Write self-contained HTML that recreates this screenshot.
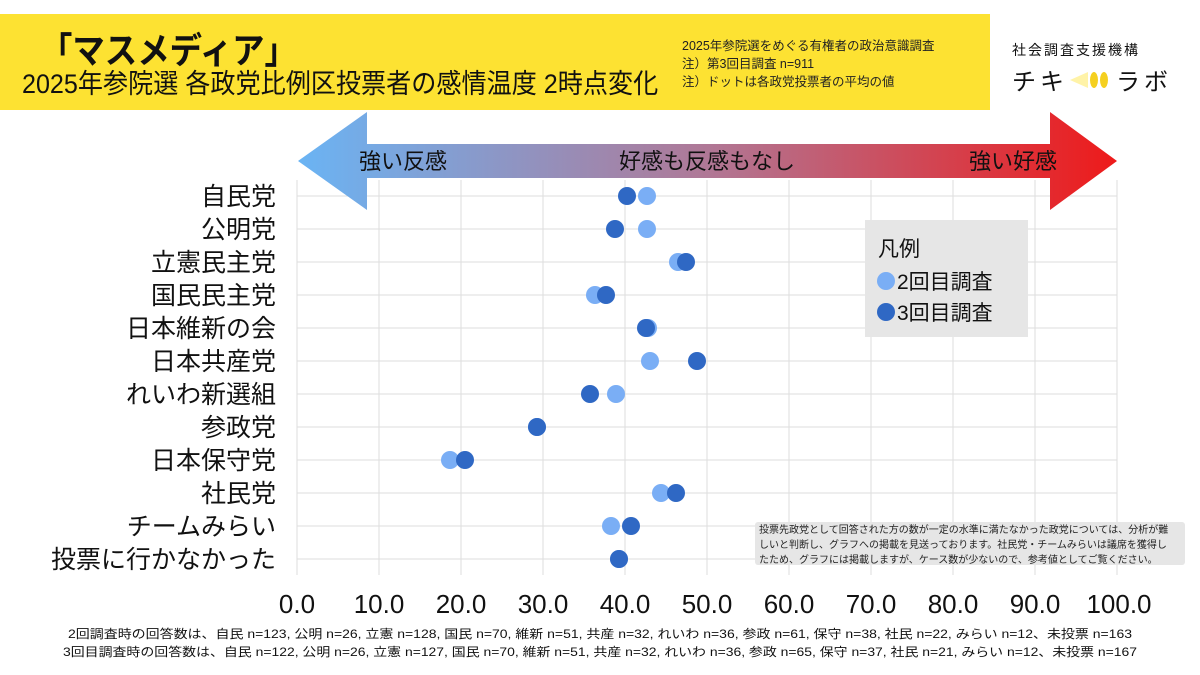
<!DOCTYPE html>
<html><head><meta charset="utf-8"><style>
body{margin:0;width:1200px;height:675px;background:#fff;overflow:hidden;font-family:"Liberation Sans","Noto Sans CJK JP",sans-serif;position:relative}
.a{position:absolute;white-space:nowrap}
</style></head><body>
<div class="a" style="left:0;top:14px;width:990px;height:96px;background:#fde232"></div>
<div class="a" style="left:40px;top:22px;font-size:36px;font-weight:bold;color:#111;transform:scaleX(0.9);transform-origin:left">「マスメディア」</div>
<div class="a" style="left:22px;top:62px;font-size:27px;color:#111;transform:scaleX(0.93);transform-origin:left">2025年参院選 各政党比例区投票者の感情温度 2時点変化</div>
<div class="a" style="left:682px;top:37px;font-size:12.5px;line-height:18px;color:#222">2025年参院選をめぐる有権者の政治意識調査<br>注）第3回目調査 n=911<br>注）ドットは各政党投票者の平均の値</div>
<div class="a" style="left:1012px;top:40px;font-size:14px;letter-spacing:2px;color:#111">社会調査支援機構</div>
<div class="a" style="left:1012px;top:62px;font-size:24px;letter-spacing:4px;color:#111">チキ</div>
<div class="a" style="left:1116px;top:62px;font-size:24px;letter-spacing:4px;color:#111">ラボ</div>
<svg class="a" style="left:1068px;top:68px" width="44" height="24"><polygon points="2,12 20,4 20,20" fill="#fff3a8"/><ellipse cx="26" cy="12" rx="4" ry="8" fill="#f5d020"/><ellipse cx="36" cy="12" rx="4" ry="8" fill="#f5d020"/></svg>
<svg class="a" style="left:0;top:0" width="1200" height="675">
<defs><linearGradient id="g" x1="298" x2="1117" gradientUnits="userSpaceOnUse"><stop offset="0" stop-color="#6ab4f4"/><stop offset="0.5" stop-color="#b07896"/><stop offset="1" stop-color="#ee1a1a"/></linearGradient></defs>
<g stroke="#ddd" stroke-width="1">
<line x1="297" y1="196" x2="1117" y2="196"/><line x1="297" y1="229" x2="1117" y2="229"/><line x1="297" y1="262" x2="1117" y2="262"/><line x1="297" y1="295" x2="1117" y2="295"/><line x1="297" y1="328" x2="1117" y2="328"/><line x1="297" y1="361" x2="1117" y2="361"/><line x1="297" y1="394" x2="1117" y2="394"/><line x1="297" y1="427" x2="1117" y2="427"/><line x1="297" y1="460" x2="1117" y2="460"/><line x1="297" y1="493" x2="1117" y2="493"/><line x1="297" y1="526" x2="1117" y2="526"/><line x1="297" y1="559" x2="1117" y2="559"/>
<line x1="297" y1="180" x2="297" y2="575"/><line x1="379" y1="180" x2="379" y2="575"/><line x1="461" y1="180" x2="461" y2="575"/><line x1="543" y1="180" x2="543" y2="575"/><line x1="625" y1="180" x2="625" y2="575"/><line x1="707" y1="180" x2="707" y2="575"/><line x1="789" y1="180" x2="789" y2="575"/><line x1="871" y1="180" x2="871" y2="575"/><line x1="953" y1="180" x2="953" y2="575"/><line x1="1035" y1="180" x2="1035" y2="575"/><line x1="1117" y1="180" x2="1117" y2="575"/>
</g>
<polygon points="298,161 367,112 367,144 1050,144 1050,112 1117,161 1050,210 1050,178 367,178 367,210" fill="url(#g)"/>
<g font-size="22" fill="#111" text-anchor="middle" font-family="Liberation Sans,Noto Sans CJK JP,sans-serif">
<text x="403" y="169">強い反感</text><text x="707" y="169">好感も反感もなし</text><text x="1013" y="169">強い好感</text></g>
<g font-size="25" fill="#111" text-anchor="end" font-family="Liberation Sans,Noto Sans CJK JP,sans-serif">
<text x="276" y="205">自民党</text><text x="276" y="238">公明党</text><text x="276" y="271">立憲民主党</text><text x="276" y="304">国民民主党</text><text x="276" y="337">日本維新の会</text><text x="276" y="370">日本共産党</text><text x="276" y="403">れいわ新選組</text><text x="276" y="436">参政党</text><text x="276" y="469">日本保守党</text><text x="276" y="502">社民党</text><text x="276" y="535">チームみらい</text><text x="276" y="568">投票に行かなかった</text></g>
<g fill="#7aaef5">
<circle cx="647" cy="196" r="9"/><circle cx="647" cy="229" r="9"/><circle cx="678" cy="262" r="9"/><circle cx="595" cy="295" r="9"/><circle cx="648" cy="328" r="9"/><circle cx="650" cy="361" r="9"/><circle cx="616" cy="394" r="9"/><circle cx="537" cy="427" r="9"/><circle cx="450" cy="460" r="9"/><circle cx="661" cy="493" r="9"/><circle cx="611" cy="526" r="9"/><circle cx="619" cy="559" r="9"/></g>
<g fill="#2f68c4">
<circle cx="627" cy="196" r="9"/><circle cx="615" cy="229" r="9"/><circle cx="686" cy="262" r="9"/><circle cx="606" cy="295" r="9"/><circle cx="646" cy="328" r="9"/><circle cx="697" cy="361" r="9"/><circle cx="590" cy="394" r="9"/><circle cx="537" cy="427" r="9"/><circle cx="465" cy="460" r="9"/><circle cx="676" cy="493" r="9"/><circle cx="631" cy="526" r="9"/><circle cx="619" cy="559" r="9"/></g>
<rect x="865" y="220" width="163" height="117" fill="#e6e6e6"/>
<g font-size="21" fill="#111" font-family="Liberation Sans,Noto Sans CJK JP,sans-serif"><text x="878" y="256">凡例</text><text x="897" y="289">2回目調査</text><text x="897" y="320">3回目調査</text></g>
<circle cx="886" cy="281" r="9" fill="#7aaef5"/><circle cx="886" cy="312" r="9" fill="#2f68c4"/>
<rect x="755" y="522" width="430" height="43" rx="3" fill="#e6e6e6"/>
<g font-size="10" fill="#222" font-family="Liberation Sans,Noto Sans CJK JP,sans-serif"><text x="759" y="533">投票先政党として回答された方の数が一定の水準に満たなかった政党については、分析が難</text><text x="759" y="548">しいと判断し、グラフへの掲載を見送っております。社民党・チームみらいは議席を獲得し</text><text x="759" y="563">たため、グラフには掲載しますが、ケース数が少ないので、参考値としてご覧ください。</text></g>
<g font-size="26" fill="#111" text-anchor="middle" font-family="Liberation Sans,sans-serif">
<text x="297" y="613">0.0</text><text x="379" y="613">10.0</text><text x="461" y="613">20.0</text><text x="543" y="613">30.0</text><text x="625" y="613">40.0</text><text x="707" y="613">50.0</text><text x="789" y="613">60.0</text><text x="871" y="613">70.0</text><text x="953" y="613">80.0</text><text x="1035" y="613">90.0</text><text x="1119" y="613">100.0</text></g>
<g font-size="12" fill="#111" text-anchor="middle" font-family="Liberation Sans,Noto Sans CJK JP,sans-serif"><text x="600" y="638" textLength="1064" lengthAdjust="spacingAndGlyphs">2回調査時の回答数は、自民 n=123, 公明 n=26, 立憲 n=128, 国民 n=70, 維新 n=51, 共産 n=32, れいわ n=36, 参政 n=61, 保守 n=38, 社民 n=22, みらい n=12、未投票 n=163</text><text x="600" y="656" textLength="1074" lengthAdjust="spacingAndGlyphs">3回目調査時の回答数は、自民 n=122, 公明 n=26, 立憲 n=127, 国民 n=70, 維新 n=51, 共産 n=32, れいわ n=36, 参政 n=65, 保守 n=37, 社民 n=21, みらい n=12、未投票 n=167</text></g>
</svg>
</body></html>
